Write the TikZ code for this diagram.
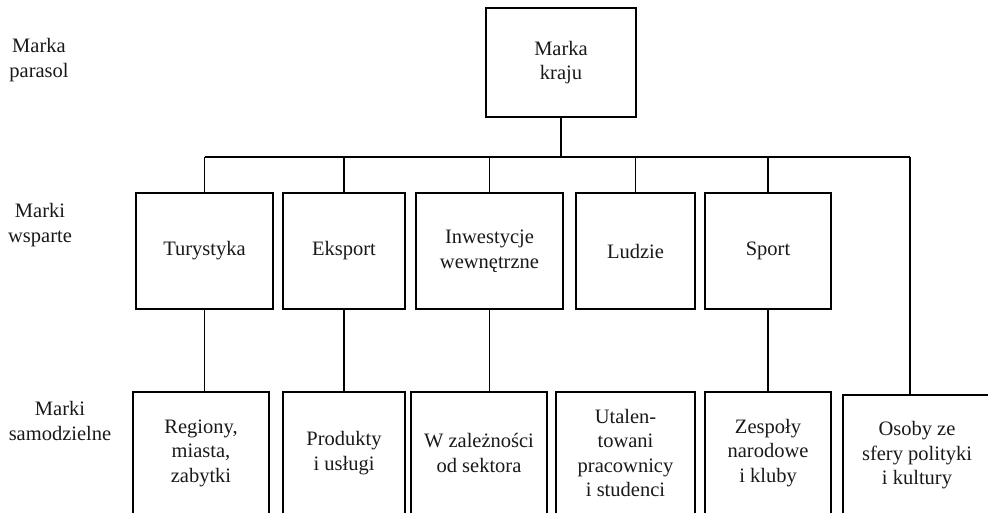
\documentclass[tikz,border=0pt]{standalone}
\usepackage{fontspec}
\setmainfont{Liberation Serif}
\usetikzlibrary{calc}

\tikzset{
  txt/.style={align=center,inner sep=0pt,text=black!90,font=\fontsize{20.5}{24.5}\selectfont},
  brandbox/.style={txt,draw=black,line width=1.5pt},
  link/.style={draw=black,line width=1.5pt}
}

\begin{document}
\begin{tikzpicture}[x=1pt,y=-1pt]

\useasboundingbox (0,0) rectangle (988,512);
\clip (0,0) rectangle (988,512);

% poziomy
\node[txt] (lvlA) at (39,60) {Marka\\parasol};
\node[txt] (lvlB) at (40,225) {Marki\\wsparte};
\node[txt] (lvlC) at (60,421) {Marki\\samodzielne};

% marka parasol
\node[brandbox,minimum width=150,minimum height=109] (kraj) at (561,62.5) {Marka\\kraju};

% marki wsparte
\node[brandbox,minimum width=137,minimum height=116] (tur) at (204.5,251) {Turystyka};
\node[brandbox,minimum width=122,minimum height=116] (eks) at (344,251) {Eksport};
\node[brandbox,minimum width=147,minimum height=116] (inw) at (489.5,251) {Inwestycje\\wewnętrzne};
\node[brandbox,minimum width=119,minimum height=116] (lud) at (635.5,251) {Ludzie};
\node[brandbox,minimum width=126,minimum height=116] (spo) at (768,251) {Sport};

% marki samodzielne
\node[brandbox,minimum width=136,minimum height=122] (reg) at (201,453) {Regiony,\\miasta,\\zabytki};
\node[brandbox,minimum width=122,minimum height=122] (pro) at (344,453) {Produkty\\i usługi};
\node[brandbox,minimum width=136,minimum height=122] (sek) at (479,453) {W zależności\\od sektora};
\node[brandbox,minimum width=139,minimum height=122] (uta) at (625.5,453) {Utalen-\\towani\\pracownicy\\i studenci};
\node[brandbox,minimum width=126,minimum height=122] (zes) at (768,453) {Zespoły\\narodowe\\i kluby};
\node[brandbox,minimum width=148,minimum height=121] (oso) at (917,455.5) {Osoby ze\\sfery polityki\\i kultury};

% szyna
\coordinate (busL) at (205,157);
\coordinate (busR) at (910,157);
\draw[link] (kraj.south) -- (kraj.south |- busL);
\draw[link] (busL) -- (busR);
\foreach \b in {tur,eks,inw,lud,spo}
  \draw[link] (\b.north) -- (\b.north |- busL);
\draw[link] (busR) -- (busR |- oso.north);

% polaczenia w dol
\draw[link] (tur.south) -- (tur.south |- reg.north);
\draw[link] (eks.south) -- (eks.south |- pro.north);
\draw[link] (inw.south) -- (inw.south |- sek.north);
\draw[link] ($(lud.south)!0.5!(lud.south -| uta.north)$) -- ($(lud.south)!0.5!(lud.south -| uta.north)$ |- uta.north);
\draw[link] (spo.south) -- (spo.south |- zes.north);

\end{tikzpicture}
\end{document}
